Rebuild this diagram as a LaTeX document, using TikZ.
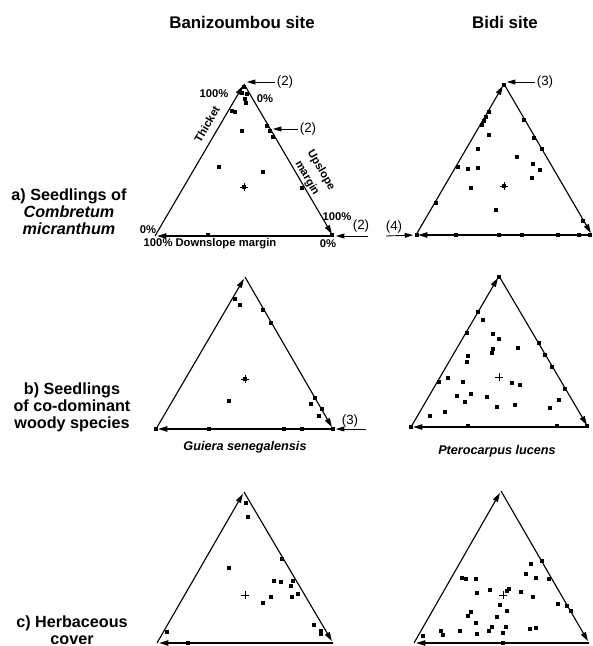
\documentclass[tikz,border=0pt]{standalone}
\usepackage{fontspec}
\setmainfont{Liberation Sans}
\usetikzlibrary{arrows.meta}

\tikzset{
  side/.style={line width=0.8pt, -{Triangle[length=6.5pt, width=3.8pt]}, shorten >=1.5pt},
  pointer/.style={line width=0.6pt, -{Triangle[length=6pt, width=3.4pt]}, shorten >=2pt},
  head/.style={font=\fontsize{12}{14}\selectfont\bfseries},
  rowlab/.style={font=\fontsize{11.5}{12.2}\selectfont\bfseries, align=center},
  axislab/.style={font=\fontsize{8}{11.5}\selectfont\bfseries, inner sep=1pt},
  count/.style={font=\fontsize{9.5}{11}\selectfont, inner sep=1pt},
  species/.style={font=\fontsize{9}{11}\selectfont\bfseries\itshape},
  centre/.style={line width=0.5pt},
}

\begin{document}
\begin{tikzpicture}[x=0.025cm, y=-0.025cm]

  \useasboundingbox (0,0) rectangle (593,646);

  % Column headings
  \node[head] (site-b) at (242,22) {Banizoumbou site};
  \node[head] (site-d) at (505,22) {Bidi site};

  % Row headings
  \node[rowlab] (row-a) at (69,212) {a) Seedlings of\\ \textit{Combretum}\\ \textit{micranthum}};
  \node[rowlab] (row-b) at (72,407) {b) Seedlings\\ of co-dominant\\ woody species};
  \node[rowlab] (row-c) at (72,630) {c) Herbaceous\\ cover};

  % === a) Banizoumbou ===
  \coordinate (a-top) at (244,84);
  \coordinate (a-left) at (155,236);
  \coordinate (a-right) at (333,236);
  \draw[side] (a-left) -- (a-top);
  \draw[side] (a-top) -- (a-right);
  \draw[side] (a-right) -- (a-left);
  \foreach \x/\y in {244/87, 242/93, 247/94, 245/99, 246/103, 232/111, 235/112,
                     242/131, 267/126, 270/131, 273/137, 219/167, 263/172,
                     244/187, 302/188, 208/235, 332/235}
    \fill (\x,\y) ++(-1.7,-1.7) rectangle ++(3.4,3.4);
  \draw[centre] (244,187) +(-4,0) -- +(4,0) +(0,-4) -- +(0,4);

  % axis labels
  \node[axislab] (a-p1) at (214,94) {100\%};
  \node[axislab] (a-p2) at (265,99) {0\%};
  \node[axislab, rotate=60] (a-thicket) at (207,124) {Thicket};
  \node[axislab, rotate=-60, align=center] (a-up) at (314,174) {Upslope\\ margin};
  \node[axislab] (a-p3) at (337,217) {100\%};
  \node[axislab] (a-p4) at (148,230) {0\%};
  \node[axislab] (a-down) at (210,244) {100\% Downslope margin};
  \node[axislab] (a-p5) at (328,244) {0\%};

  % counts
  \node[count] (a-n1) at (285,82) {(2)};
  \draw[pointer] (a-n1.west) -- (a-top |- a-n1.west);
  \coordinate (a-mid) at (270,129);
  \node[count] (a-n2) at (308,129) {(2)};
  \draw[pointer] (a-n2.west) -- (a-mid);
  \node[count] (a-n3) at (361,226) {(2)};
  \coordinate (a-n3-tail) at (368,236);
  \draw[pointer] (a-n3-tail) -- (a-right);

  % === a) Bidi ===
  \coordinate (b-top) at (504,84);
  \coordinate (b-left) at (416,235);
  \coordinate (b-right) at (592,235);
  \draw[side] (b-left) -- (b-top);
  \draw[side] (b-top) -- (b-right);
  \draw[side] (b-right) -- (b-left);
  \foreach \x/\y in {504/85, 489/112, 486/117, 484/121, 482/125, 489/135, 478/149,
                     458/167, 468/169, 478/168, 471/188, 436/203, 524/120, 534/138,
                     542/149, 517/157, 533/164, 540/170, 532/178, 504/186, 496/210,
                     583/221, 417/235, 456/235, 499/235, 522/235, 558/235, 579/235,
                     590/235}
    \fill (\x,\y) ++(-1.7,-1.7) rectangle ++(3.4,3.4);
  \draw[centre] (504,186) +(-4,0) -- +(4,0) +(0,-4) -- +(0,4);

  \node[count] (b-n1) at (545,82) {(3)};
  \draw[pointer] (b-n1.west) -- (b-top |- b-n1.west);
  \node[count] (b-n2) at (394,227) {(4)};
  \coordinate (b-n2-tail) at (386,236);
  \draw[pointer] (b-n2-tail) -- (b-left);

  % === b) Banizoumbou ===
  \coordinate (c-top) at (245,277);
  \coordinate (c-left) at (156,429);
  \coordinate (c-right) at (333,429);
  \draw[side] (c-left) -- (c-top);
  \draw[side] (c-top) -- (c-right);
  \draw[side] (c-right) -- (c-left);
  \foreach \x/\y in {235/299, 240/305, 263/310, 271/323, 245/379, 229/401, 315/398,
                     311/404, 322/409, 319/416, 156/429, 209/429, 284/429, 302/429,
                     333/429}
    \fill (\x,\y) ++(-1.7,-1.7) rectangle ++(3.4,3.4);
  \draw[centre] (245,379) +(-4,0) -- +(4,0) +(0,-4) -- +(0,4);

  \node[count] (c-n1) at (350,421) {(3)};
  \coordinate (c-n1-tail) at (366,429);
  \draw[pointer] (c-n1-tail) -- (c-right);
  \node[species] (c-name) at (245,447) {Guiera senegalensis};

  % === b) Bidi ===
  \coordinate (d-top) at (499,276);
  \coordinate (d-left) at (411,427);
  \coordinate (d-right) at (588,427);
  \draw[side] (d-left) -- (d-top);
  \draw[side] (d-top) -- (d-right);
  \draw[side] (d-right) -- (d-left);
  \foreach \x/\y in {499/277, 478/312, 467/333, 439/382, 483/320, 493/334, 499/339,
                     493/349, 492/353, 518/348, 468/356, 467/362, 448/378, 463/382,
                     512/383, 520/385, 457/396, 471/394, 465/402, 487/397, 497/407,
                     515/405, 445/412, 430/416, 539/343, 545/355, 552/367, 565/389,
                     559/400, 550/408, 411/427, 468/426, 557/426, 587/426}
    \fill (\x,\y) ++(-1.7,-1.7) rectangle ++(3.4,3.4);
  \draw[centre] (499,377) +(-4,0) -- +(4,0) +(0,-4) -- +(0,4);

  \node[species] (d-name) at (497,451) {Pterocarpus lucens};

  % === c) Banizoumbou ===
  \coordinate (e-top) at (244,492);
  \coordinate (e-left) at (157,643);
  \coordinate (e-right) at (333,643);
  \draw[side] (e-left) -- (e-top);
  \draw[side] (e-top) -- (e-right);
  \draw[side] (e-right) -- (e-left);
  \foreach \x/\y in {246/503, 248/517, 282/559, 229/568, 274/581, 281/582, 293/581,
                     291/586, 263/603, 271/597, 292/597, 298/594, 167/632, 314/625,
                     321/631, 321/634, 188/643}
    \fill (\x,\y) ++(-1.7,-1.7) rectangle ++(3.4,3.4);
  \draw[centre] (245,595) +(-4,0) -- +(4,0) +(0,-4) -- +(0,4);

  % === c) Bidi ===
  \coordinate (f-top) at (501,491);
  \coordinate (f-left) at (414,643);
  \coordinate (f-right) at (589,643);
  \draw[side] (f-left) -- (f-top);
  \draw[side] (f-top) -- (f-right);
  \draw[side] (f-right) -- (f-left);
  \foreach \x/\y in {531/564, 542/561, 526/574, 536/578, 549/579, 462/578, 466/579,
                     476/579, 477/593, 490/590, 507/591, 509/589, 521/592, 533/597,
                     558/604, 567/606, 571/611, 500/605, 507/611, 471/612, 468/616,
                     497/617, 476/623, 441/631, 443/635, 460/631, 477/634, 489/631,
                     492/627, 503/633, 506/627, 530/629, 536/628, 423/636, 503/643}
    \fill (\x,\y) ++(-1.7,-1.7) rectangle ++(3.4,3.4);
  \draw[centre] (503,595) +(-4,0) -- +(4,0) +(0,-4) -- +(0,4);

\end{tikzpicture}
\end{document}
